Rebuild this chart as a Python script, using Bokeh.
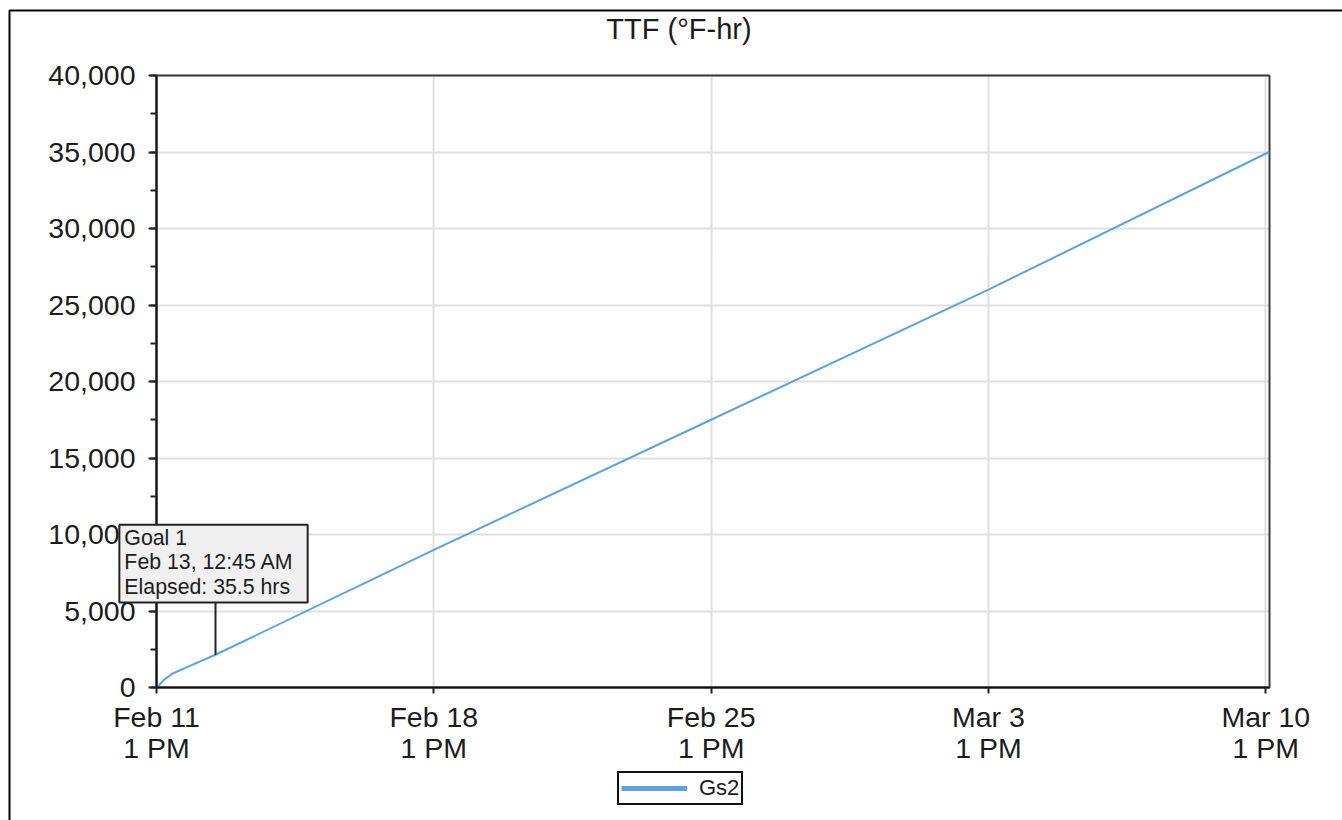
import pandas as pd
from bokeh.plotting import figure
from bokeh.models import (Range1d, FixedTicker, SingleIntervalTicker, NumeralTickFormatter,
                          Legend, LegendItem, Label, BoxAnnotation)
from bokeh.embed import file_html
from bokeh.resources import INLINE

# ---------------- data ----------------
chart_title = "TTF (°F-hr)"
series_name = "Gs2"
times = ["2024-02-11 13:15", "2024-02-11 17:30", "2024-02-11 22:30", "2024-02-12 07:30",
         "2024-02-13 00:45", "2024-02-18 13:00", "2024-02-25 13:00", "2024-03-03 13:00",
         "2024-03-10 15:00"]
ttf = [0, 500, 900, 1330, 2140, 9000, 17500, 26000, 35000]
x_tick_times = ["2024-02-11 13:00", "2024-02-18 13:00", "2024-02-25 13:00",
                "2024-03-03 13:00", "2024-03-10 13:00"]
x_tick_labels = ["Feb 11\n1 PM", "Feb 18\n1 PM", "Feb 25\n1 PM", "Mar 3\n1 PM", "Mar 10\n1 PM"]
x_start, x_end = "2024-02-11 13:00", "2024-03-10 15:15"
y_start, y_end, y_step = 0, 40000, 5000
goal_time = "2024-02-13 00:45"
goal_value = 2140
goal_text = "Goal 1\nFeb 13, 12:45 AM\nElapsed: 35.5 hrs"
callout_y = 5550

# ---------------- layout (pixels) ----------------
CW, CH = 1342, 820
PX_LEFT, PX_RIGHT = 156, 1269     # plot area left / right edge
PY_BOTTOM, PY_TOP = 687, 75       # plot area bottom / top edge

FONT = "Liberation Sans"
TXT = "#1c1c1c"
LINE_COLOR = "#5ba3e0"


def ms(s):
    return int(pd.Timestamp(s).value // 10**6)


t0, t1 = ms(x_start), ms(x_end)
mpp = (t1 - t0) / (PX_RIGHT - PX_LEFT)
vpp = (y_end - y_start) / (PY_BOTTOM - PY_TOP)


def dx(px):
    return t0 + (px - PX_LEFT) * mpp


def dy(py):
    return y_start + (PY_BOTTOM - py) * vpp


p = figure(width=CW, height=CH, x_axis_type="datetime",
           x_range=Range1d(dx(0), dx(CW)), y_range=Range1d(dy(CH), dy(0)),
           output_backend="svg", toolbar_location=None, min_border=0)
p.title.visible = False
p.outline_line_color = None
p.background_fill_color = "white"
p.border_fill_color = "white"

# outer chart border (only top/left edges fall inside the window)
p.add_layout(BoxAnnotation(left=dx(9), right=dx(CW + 50), top=dy(10), bottom=dy(CH + 50),
                           fill_alpha=0, line_color="#000000", line_alpha=1, line_width=2))

# plot-area box
p.add_layout(BoxAnnotation(left=t0, right=t1, bottom=y_start, top=y_end, fill_alpha=0,
                           line_color="#3a3a3a", line_alpha=1, line_width=2, level="underlay"))

# axes
tick_ms = [ms(t) for t in x_tick_times]
p.xaxis.ticker = FixedTicker(ticks=tick_ms, minor_ticks=[])
p.xaxis.major_label_overrides = {t: lab for t, lab in zip(tick_ms, x_tick_labels)}
p.xaxis.fixed_location = y_start
p.xaxis.bounds = (t0, t1)
p.yaxis.ticker = SingleIntervalTicker(interval=y_step, num_minor_ticks=2)
p.yaxis.formatter = NumeralTickFormatter(format="0,0")
p.yaxis.fixed_location = t0
p.yaxis.bounds = (y_start, y_end)

for ax in (p.xaxis[0], p.yaxis[0]):
    ax.axis_line_color = "#111111"
    ax.axis_line_width = 2
    ax.major_tick_line_color = "#222222"
    ax.major_tick_line_width = 2
    ax.minor_tick_line_color = "#222222"
    ax.minor_tick_line_width = 2
    ax.major_tick_in = 0
    ax.minor_tick_in = 0
    ax.major_label_text_font = FONT
    ax.major_label_text_font_size = "28.5px"
    ax.major_label_text_color = TXT
p.yaxis.major_tick_out = 8
p.yaxis.minor_tick_out = 6
p.yaxis.major_label_standoff = 13
p.xaxis.major_tick_out = 6
p.xaxis.major_label_standoff = 7
p.xaxis.major_label_text_line_height = 0.97

# grid limited to the plot area
for g in (p.xgrid[0], p.ygrid[0]):
    g.grid_line_color = "#e0e0e0"
    g.grid_line_width = 2
p.xgrid[0].bounds = (t0, t1)
p.ygrid[0].bounds = (y_start, y_end)
p.xgrid[0].cross_bounds = (y_start, y_end)
p.ygrid[0].cross_bounds = (t0, t1)

# series
x_ms = [ms(t) for t in times]
r = p.line(x_ms, ttf, line_color=LINE_COLOR, line_width=2)
# legend swatch (single point: nothing drawn in the plot, thicker line in the legend)
proxy = p.line(x_ms[:1], ttf[:1], line_color=LINE_COLOR, line_width=5)

# title
p.add_layout(Label(x=dx(678.5), y=dy(28), text=chart_title, text_align="center",
                   text_baseline="middle", text_font=FONT, text_font_size="29px",
                   text_color=TXT))

# goal callout
gx = ms(goal_time)
p.segment(x0=[gx], y0=[goal_value], x1=[gx], y1=[callout_y], line_color="#222222", line_width=2)
p.add_layout(Label(x=gx, y=callout_y, x_offset=-2, text=goal_text, anchor="bottom_center",
                   text_align="left", text_font=FONT, text_font_size="21.3px", text_color=TXT,
                   text_line_height=1.02,
                   background_fill_color="#f0f0f0", border_line_color="#222222",
                   border_line_alpha=1, border_line_width=2,
                   padding=dict(left=5, right=14, top=1, bottom=4)))

legend = Legend(items=[LegendItem(label=series_name, renderers=[proxy])],
                location=(617, CH - 805), orientation="horizontal",
                label_text_font=FONT, label_text_font_size="22px", label_text_color=TXT,
                label_text_line_height=1.0,
                glyph_width=66, glyph_height=20, label_standoff=12, padding=2, spacing=0,
                border_line_color="#111111", border_line_alpha=1, border_line_width=2,
                margin=0, background_fill_color="white", background_fill_alpha=1)
p.add_layout(legend)

open("out.html", "w").write(file_html(p, INLINE))
